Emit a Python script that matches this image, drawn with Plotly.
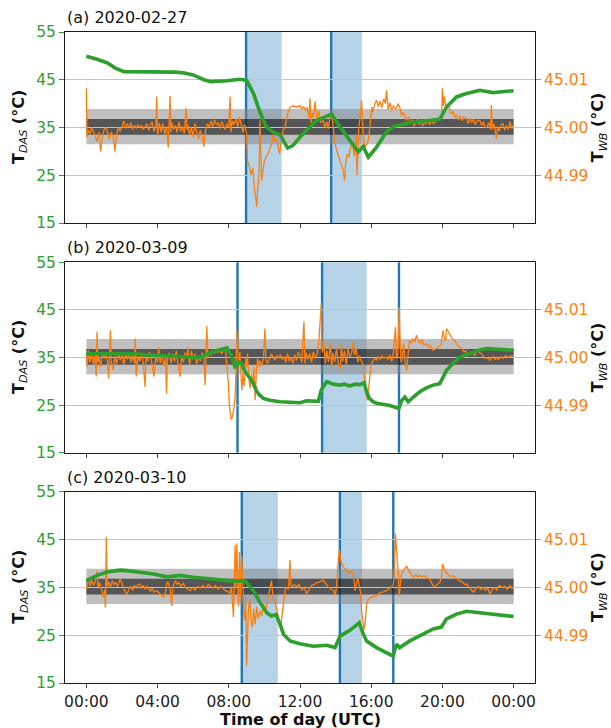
import plotly.graph_objects as go

GREEN = "#2ca02c"
ORANGE = "#ff7f0e"
BLUE = "#1f77b4"
FONT = "DejaVu Sans"

panel_titles = ["(a) 2020-02-27", "(b) 2020-03-09", "(c) 2020-03-10"]
hour_ticks = [0, 4, 8, 12, 16, 20, 24]
hour_labels = ["00:00", "04:00", "08:00", "12:00", "16:00", "20:00", "00:00"]
das_ticks = [15, 25, 35, 45, 55]
wb_ticks = [44.99, 45.00, 45.01]

# Reference thermometer uncertainty bands (T_WB, degC)
wb_band_outer = (44.9965, 45.0039)
wb_band_inner = (44.9985, 45.0018)

# DAS temperature (hour of day, degC)
das_a = [(0.0, 49.9), (0.6, 49.3), (1.2, 48.5), (1.6, 47.5), (2.1, 46.7), (3.0, 46.7), (4.0, 46.6),
         (5.0, 46.6), (5.5, 46.4), (6.0, 46.0), (6.6, 45.0), (7.0, 44.6), (7.9, 44.8), (8.6, 45.1),
         (9.0, 44.9), (9.4, 42.0), (9.75, 38.2), (10.1, 35.2), (10.5, 34.0), (10.9, 33.4), (11.3, 30.7),
         (11.6, 31.2), (12.0, 33.0), (12.4, 34.5), (12.94, 36.5), (13.78, 37.8), (14.25, 35.1),
         (14.8, 32.3), (15.27, 29.9), (15.55, 31.0), (15.84, 28.8), (16.3, 30.9), (16.86, 34.1),
         (17.33, 35.3), (18.17, 36.0), (19.1, 36.4), (19.85, 36.7), (20.23, 39.3), (20.79, 41.4),
         (21.35, 42.1), (22.1, 42.8), (22.84, 42.3), (24.0, 42.7)]

das_b = [(0.0, 35.8), (1.0, 35.8), (2.0, 35.7), (2.65, 35.8), (3.6, 35.5), (4.5, 35.3), (5.27, 35.2),
         (5.6, 35.0), (6.4, 35.0), (7.1, 36.2), (7.9, 37.0), (8.17, 35.1), (8.35, 33.0), (8.45, 33.2),
         (8.54, 34.1), (8.7, 33.8), (8.92, 32.0), (9.2, 30.6), (9.38, 29.5), (9.55, 28.0), (9.7, 27.2),
         (9.94, 26.4), (10.3, 26.0), (10.88, 25.7), (11.5, 25.5), (12.0, 25.5), (12.37, 25.9),
         (12.75, 25.9), (13.03, 25.8), (13.2, 28.2), (13.5, 29.9), (13.87, 29.4), (14.25, 29.2),
         (14.5, 29.4), (14.8, 29.0), (15.1, 29.4), (15.37, 29.3), (15.6, 29.7), (15.74, 27.8),
         (15.9, 26.4), (16.1, 25.7), (16.3, 25.4), (16.86, 25.0), (17.05, 24.9), (17.55, 24.3),
         (17.72, 26.0), (17.89, 26.7), (18.08, 25.7), (18.4, 26.8), (18.73, 27.8), (19.1, 28.6),
         (19.48, 29.2), (19.85, 29.5), (20.05, 31.0), (20.23, 32.3), (20.6, 33.8), (20.98, 35.1),
         (21.5, 35.8), (22.0, 36.5), (22.47, 36.9), (23.2, 36.7), (24.0, 36.5)]

das_c = [(0.0, 36.4), (0.6, 37.5), (1.16, 38.2), (1.9, 38.6), (2.28, 38.5), (3.0, 38.2), (3.78, 37.8),
         (4.52, 37.2), (5.27, 37.5), (6.0, 37.1), (6.77, 36.8), (7.51, 36.5), (8.26, 36.3), (8.9, 36.4),
         (9.38, 34.3), (9.76, 31.8), (10.13, 29.7), (10.4, 29.0), (10.65, 29.3), (10.88, 27.3),
         (11.07, 25.2), (11.44, 23.8), (12.0, 23.2), (12.75, 22.7), (13.5, 22.9), (13.97, 22.4),
         (14.25, 24.8), (14.8, 26.0), (15.33, 27.6), (15.55, 25.3), (15.74, 23.8), (16.3, 22.4),
         (16.86, 21.3), (17.23, 20.6), (17.42, 23.1), (17.6, 22.4), (18.17, 23.8), (18.73, 24.8),
         (19.48, 26.3), (19.94, 26.7), (20.23, 28.4), (20.79, 29.4), (21.35, 30.0), (22.1, 29.7),
         (22.84, 29.4), (24.0, 28.9)]

# Water-bath reference temperature (hour of day, degC)
wb_a = [(0.00, 45.0082), (0.03, 44.9980), (0.10, 44.9995), (0.20, 44.9986), (0.30, 45.0000), (0.40, 44.9992),
        (0.50, 44.9982), (0.60, 44.9970), (0.70, 44.9990), (0.80, 44.9950), (0.90, 44.9980), (1.00, 44.9996),
        (1.10, 45.0000), (1.20, 44.9988), (1.30, 44.9976), (1.40, 44.9990), (1.50, 44.9982), (1.60, 44.9950),
        (1.70, 44.9985), (1.80, 45.0000), (1.90, 44.9992), (2.00, 45.0002), (2.10, 45.0014), (2.20, 44.9998),
        (2.30, 45.0008), (2.40, 45.0000), (2.50, 45.0010), (2.60, 44.9996), (2.70, 45.0004), (2.80, 44.9998),
        (2.90, 45.0006), (3.00, 45.0000), (3.10, 45.0004), (3.20, 44.9996), (3.30, 45.0002), (3.40, 45.0008),
        (3.50, 44.9994), (3.60, 45.0006), (3.70, 45.0012), (3.80, 44.9992), (3.90, 45.0000), (3.95, 45.0065),
        (4.00, 44.9982), (4.10, 45.0010), (4.20, 44.9990), (4.30, 45.0008), (4.40, 44.9986), (4.50, 45.0002),
        (4.60, 44.9958), (4.70, 45.0066), (4.75, 44.9990), (4.80, 45.0010), (4.90, 44.9996), (5.00, 45.0004),
        (5.10, 44.9990), (5.20, 45.0012), (5.30, 44.9992), (5.40, 45.0002), (5.50, 44.9988), (5.60, 45.0040),
        (5.65, 44.9995), (5.70, 45.0006), (5.80, 44.9984), (5.90, 45.0000), (6.00, 44.9980), (6.10, 45.0008),
        (6.20, 44.9990), (6.30, 44.9976), (6.40, 44.9994), (6.50, 44.9982), (6.60, 44.9960), (6.70, 44.9996),
        (6.80, 45.0008), (6.90, 45.0000), (7.00, 45.0014), (7.10, 45.0002), (7.20, 45.0016), (7.30, 45.0006),
        (7.40, 45.0010), (7.50, 44.9998), (7.60, 45.0012), (7.70, 45.0004), (7.80, 44.9996), (7.90, 45.0008),
        (8.00, 45.0000), (8.07, 45.0065), (8.12, 44.9990), (8.20, 45.0014), (8.30, 45.0006), (8.40, 45.0018),
        (8.50, 45.0002), (8.60, 45.0022), (8.70, 45.0004), (8.80, 44.9990), (8.90, 45.0006), (9.00, 44.9988),
        (9.05, 44.9930), (9.15, 44.9920), (9.25, 44.9900), (9.35, 44.9915), (9.45, 44.9870), (9.52, 44.9845),
        (9.57, 44.9834), (9.62, 44.9870), (9.70, 44.9900), (9.75, 45.0015), (9.80, 44.9920), (9.85, 44.9889),
        (9.92, 44.9910), (10.00, 44.9930), (10.10, 44.9939), (10.20, 44.9945), (10.30, 44.9955), (10.40, 44.9965),
        (10.50, 44.9985), (10.60, 44.9970), (10.70, 44.9974), (10.80, 44.9948), (10.85, 44.9944), (10.95, 44.9970),
        (11.05, 44.9995), (11.15, 45.0000), (11.25, 45.0018), (11.35, 45.0035), (11.45, 45.0042), (11.60, 45.0045),
        (11.80, 45.0043), (12.00, 45.0046), (12.10, 45.0038), (12.20, 45.0044), (12.30, 45.0036), (12.40, 45.0042),
        (12.50, 45.0020), (12.56, 45.0061), (12.62, 45.0010), (12.70, 45.0030), (12.75, 45.0022), (12.85, 45.0055),
        (12.95, 45.0012), (13.05, 45.0035), (13.15, 45.0010), (13.30, 45.0015), (13.40, 45.0000), (13.50, 45.0012),
        (13.60, 44.9998), (13.70, 45.0025), (13.78, 45.0029), (13.85, 44.9998), (13.95, 44.9970), (14.06, 44.9952),
        (14.15, 44.9940), (14.25, 44.9930), (14.35, 44.9920), (14.45, 44.9905), (14.50, 44.9889), (14.55, 44.9920),
        (14.65, 44.9945), (14.75, 44.9938), (14.85, 44.9960), (14.95, 44.9966), (15.05, 44.9940), (15.15, 44.9985),
        (15.20, 44.9900), (15.30, 45.0000), (15.40, 45.0030), (15.46, 45.0057), (15.55, 44.9980), (15.65, 44.9959),
        (15.75, 44.9965), (15.84, 44.9973), (15.95, 45.0010), (16.03, 45.0043), (16.10, 45.0032), (16.20, 45.0050),
        (16.30, 45.0057), (16.40, 45.0044), (16.50, 45.0055), (16.60, 45.0042), (16.70, 45.0060), (16.80, 45.0050),
        (16.86, 45.0078), (16.95, 45.0038), (17.05, 45.0052), (17.15, 45.0036), (17.25, 45.0045), (17.40, 45.0038),
        (17.50, 45.0050), (17.60, 45.0043), (17.70, 45.0025), (17.80, 45.0032), (17.98, 45.0015), (18.10, 45.0022),
        (18.20, 45.0008), (18.30, 45.0016), (18.40, 45.0004), (18.50, 45.0008), (18.60, 45.0018), (18.70, 45.0006),
        (18.80, 45.0012), (18.90, 45.0004), (19.00, 45.0010), (19.10, 45.0008), (19.20, 45.0014), (19.30, 45.0006),
        (19.40, 45.0016), (19.50, 45.0008), (19.66, 45.0015), (19.80, 45.0019), (19.95, 45.0020), (20.00, 45.0082),
        (20.05, 45.0045), (20.10, 45.0065), (20.20, 45.0040), (20.30, 45.0050), (20.42, 45.0036), (20.50, 45.0028),
        (20.60, 45.0034), (20.70, 45.0022), (20.80, 45.0026), (20.90, 45.0016), (21.00, 45.0024), (21.10, 45.0014),
        (21.20, 45.0022), (21.35, 45.0019), (21.45, 45.0008), (21.55, 45.0020), (21.65, 45.0010), (21.75, 45.0018),
        (21.85, 45.0006), (21.95, 45.0014), (22.10, 45.0015), (22.20, 45.0004), (22.30, 45.0012), (22.40, 45.0000),
        (22.50, 45.0001), (22.60, 45.0010), (22.70, 44.9996), (22.75, 45.0047), (22.80, 44.9996), (22.90, 45.0008),
        (23.03, 44.9977), (23.10, 45.0002), (23.20, 44.9992), (23.30, 45.0006), (23.40, 45.0008), (23.50, 44.9994),
        (23.60, 45.0004), (23.70, 44.9996), (23.80, 45.0012), (23.90, 44.9998), (24.00, 45.0006)]

wb_b = [(0.00, 45.0005), (0.05, 44.9980), (0.10, 45.0015), (0.20, 44.9990), (0.30, 45.0008), (0.40, 44.9985),
        (0.50, 45.0010), (0.55, 44.9960), (0.60, 45.0054), (0.65, 44.9990), (0.70, 45.0002), (0.80, 44.9980),
        (0.90, 45.0012), (1.00, 44.9998), (1.10, 45.0006), (1.20, 44.9988), (1.25, 44.9956), (1.30, 45.0000),
        (1.35, 45.0057), (1.40, 44.9990), (1.50, 44.9973), (1.60, 45.0004), (1.70, 44.9986), (1.80, 45.0010),
        (1.90, 44.9994), (2.00, 45.0006), (2.10, 44.9984), (2.20, 45.0008), (2.30, 44.9996), (2.40, 45.0012),
        (2.50, 44.9990), (2.60, 45.0004), (2.70, 44.9988), (2.75, 45.0040), (2.80, 44.9960), (2.90, 45.0002),
        (3.00, 44.9992), (3.10, 45.0010), (3.20, 44.9986), (3.30, 44.9938), (3.35, 45.0000), (3.45, 44.9992),
        (3.55, 45.0012), (3.65, 44.9994), (3.80, 44.9960), (3.90, 45.0004), (4.00, 44.9990), (4.05, 45.0022),
        (4.15, 44.9988), (4.25, 45.0006), (4.35, 44.9982), (4.45, 45.0000), (4.50, 44.9924), (4.55, 44.9994),
        (4.65, 45.0010), (4.75, 44.9988), (4.85, 45.0008), (4.95, 44.9992), (5.05, 45.0014), (5.15, 44.9986),
        (5.27, 44.9960), (5.35, 45.0004), (5.45, 44.9990), (5.55, 45.0010), (5.65, 44.9998), (5.70, 45.0022),
        (5.80, 44.9984), (5.90, 45.0014), (6.00, 44.9996), (6.10, 45.0008), (6.20, 44.9986), (6.30, 45.0004),
        (6.40, 44.9992), (6.50, 45.0010), (6.60, 44.9996), (6.67, 44.9942), (6.72, 45.0006), (6.77, 45.0066),
        (6.82, 45.0000), (6.90, 45.0012), (7.00, 45.0004), (7.10, 45.0016), (7.20, 45.0008), (7.30, 45.0018),
        (7.40, 45.0010), (7.50, 45.0016), (7.60, 45.0008), (7.70, 45.0019), (7.80, 45.0022), (7.90, 44.9980),
        (7.98, 44.9945), (8.03, 44.9900), (8.07, 44.9889), (8.13, 44.9870), (8.20, 44.9875), (8.28, 44.9890),
        (8.35, 44.9917), (8.42, 44.9985), (8.45, 45.0057), (8.50, 44.9995), (8.55, 44.9980), (8.62, 45.0012),
        (8.68, 44.9950), (8.73, 44.9931), (8.80, 44.9968), (8.85, 44.9940), (8.90, 44.9955), (8.95, 44.9998),
        (9.00, 44.9980), (9.05, 45.0008), (9.12, 44.9960), (9.20, 44.9935), (9.28, 44.9965), (9.35, 44.9940),
        (9.42, 44.9980), (9.48, 44.9910), (9.55, 44.9970), (9.62, 44.9998), (9.70, 44.9980), (9.75, 44.9994),
        (9.85, 44.9982), (9.95, 45.0000), (10.03, 45.0061), (10.08, 44.9994), (10.18, 44.9988), (10.30, 45.0000),
        (10.40, 45.0008), (10.50, 45.0000), (10.60, 44.9994), (10.70, 45.0004), (10.80, 44.9998), (10.90, 45.0006),
        (11.00, 44.9996), (11.10, 45.0002), (11.20, 44.9990), (11.30, 45.0008), (11.40, 44.9992), (11.50, 45.0000),
        (11.60, 44.9988), (11.70, 45.0006), (11.80, 44.9994), (11.90, 45.0012), (12.00, 45.0004), (12.10, 44.9990),
        (12.22, 45.0075), (12.28, 44.9988), (12.35, 45.0010), (12.45, 44.9996), (12.55, 45.0008), (12.65, 44.9990),
        (12.75, 45.0012), (12.85, 44.9998), (12.95, 45.0006), (13.05, 45.0030), (13.12, 45.0085), (13.20, 45.0115),
        (13.25, 45.0010), (13.35, 45.0030), (13.42, 44.9987), (13.50, 45.0015), (13.60, 44.9990), (13.70, 45.0030),
        (13.78, 44.9980), (13.85, 45.0010), (13.95, 44.9990), (14.05, 45.0020), (14.15, 44.9985), (14.27, 44.9977),
        (14.32, 45.0030), (14.40, 44.9992), (14.50, 45.0015), (14.60, 44.9985), (14.70, 45.0020), (14.80, 45.0000),
        (14.90, 45.0010), (14.99, 45.0033), (15.05, 45.0005), (15.15, 45.0018), (15.25, 44.9990), (15.35, 45.0004),
        (15.45, 44.9992), (15.55, 44.9985), (15.65, 44.9945), (15.72, 44.9920), (15.80, 44.9910), (15.85, 44.9935),
        (15.92, 44.9960), (16.00, 44.9985), (16.10, 44.9994), (16.20, 45.0000), (16.30, 44.9994), (16.40, 45.0002),
        (16.50, 44.9996), (16.60, 45.0004), (16.70, 44.9998), (16.86, 45.0001), (16.95, 44.9996), (17.05, 45.0006),
        (17.15, 44.9992), (17.25, 45.0010), (17.36, 45.0064), (17.42, 44.9998), (17.50, 45.0004), (17.57, 45.0106),
        (17.62, 45.0035), (17.68, 44.9990), (17.75, 45.0000), (17.82, 45.0030), (17.90, 44.9994), (18.00, 44.9973),
        (18.08, 45.0010), (18.15, 45.0036), (18.25, 45.0030), (18.35, 45.0040), (18.45, 45.0032), (18.54, 45.0047),
        (18.65, 45.0036), (18.75, 45.0030), (18.85, 45.0038), (18.95, 45.0026), (19.10, 45.0029), (19.20, 45.0022),
        (19.30, 45.0026), (19.40, 45.0018), (19.48, 45.0015), (19.60, 45.0018), (19.75, 45.0022), (19.85, 45.0024),
        (19.94, 45.0030), (20.03, 45.0057), (20.10, 45.0044), (20.18, 45.0034), (20.23, 45.0061), (20.35, 45.0052),
        (20.45, 45.0046), (20.55, 45.0040), (20.70, 45.0036), (20.80, 45.0028), (20.90, 45.0024), (21.00, 45.0020),
        (21.10, 45.0019), (21.20, 45.0012), (21.30, 45.0014), (21.40, 45.0008), (21.50, 45.0010), (21.60, 45.0006),
        (21.70, 45.0012), (21.80, 45.0004), (21.90, 45.0010), (22.00, 45.0014), (22.10, 45.0010), (22.20, 45.0008),
        (22.30, 45.0002), (22.40, 44.9998), (22.50, 45.0000), (22.65, 44.9994), (22.75, 44.9998), (22.85, 45.0002),
        (22.95, 44.9996), (23.05, 45.0000), (23.15, 44.9996), (23.30, 45.0002), (23.40, 44.9998), (23.55, 45.0004),
        (23.70, 45.0000), (23.85, 45.0004), (24.00, 45.0003)]

wb_c = [(0.00, 44.9996), (0.07, 45.0010), (0.13, 45.0021), (0.20, 45.0002), (0.30, 45.0015), (0.40, 45.0004),
        (0.50, 45.0012), (0.60, 45.0035), (0.65, 45.0000), (0.75, 45.0010), (0.85, 44.9998), (0.97, 44.9979),
        (1.02, 44.9995), (1.07, 44.9958), (1.12, 45.0105), (1.17, 45.0000), (1.25, 45.0012), (1.35, 45.0000),
        (1.45, 45.0014), (1.55, 45.0006), (1.65, 45.0010), (1.75, 45.0002), (1.90, 45.0018), (2.00, 45.0006),
        (2.10, 44.9998), (2.20, 44.9990), (2.28, 44.9986), (2.40, 44.9996), (2.50, 45.0002), (2.60, 44.9994),
        (2.70, 45.0004), (2.80, 44.9998), (2.90, 45.0006), (3.00, 45.0007), (3.10, 44.9998), (3.20, 45.0004),
        (3.30, 44.9996), (3.40, 45.0002), (3.50, 44.9998), (3.60, 44.9992), (3.70, 44.9998), (3.80, 44.9990),
        (3.96, 44.9993), (4.10, 44.9988), (4.20, 44.9984), (4.34, 44.9979), (4.45, 44.9990), (4.52, 45.0008),
        (4.60, 45.0012), (4.70, 44.9996), (4.80, 44.9961), (4.85, 45.0000), (5.00, 45.0014), (5.10, 45.0006),
        (5.20, 45.0010), (5.30, 45.0002), (5.45, 45.0008), (5.55, 45.0000), (5.70, 44.9996), (5.83, 44.9993),
        (5.95, 45.0000), (6.10, 44.9994), (6.25, 45.0002), (6.40, 44.9998), (6.55, 45.0004), (6.70, 44.9998),
        (6.85, 45.0006), (6.95, 45.0002), (7.10, 44.9998), (7.25, 45.0004), (7.40, 44.9996), (7.55, 45.0002),
        (7.70, 44.9996), (7.85, 44.9992), (8.00, 44.9990), (8.07, 44.9988), (8.15, 45.0002), (8.22, 44.9945),
        (8.26, 44.9938), (8.32, 45.0010), (8.35, 45.0088), (8.40, 45.0000), (8.45, 45.0092), (8.50, 45.0015),
        (8.55, 44.9960), (8.60, 45.0074), (8.67, 44.9980), (8.73, 45.0065), (8.78, 45.0010), (8.84, 44.9950),
        (8.90, 44.9930), (8.95, 44.9980), (9.00, 44.9836), (9.05, 44.9900), (9.10, 44.9952), (9.18, 44.9975),
        (9.25, 44.9930), (9.32, 44.9917), (9.40, 44.9955), (9.48, 44.9923), (9.57, 44.9960), (9.65, 44.9935),
        (9.76, 44.9951), (9.85, 44.9940), (9.95, 44.9965), (10.05, 44.9950), (10.13, 44.9965), (10.22, 44.9980),
        (10.32, 44.9994), (10.40, 45.0014), (10.48, 44.9980), (10.58, 44.9970), (10.68, 44.9955), (10.78, 44.9940),
        (10.88, 44.9916), (10.95, 44.9930), (11.07, 44.9965), (11.16, 44.9994), (11.25, 45.0000), (11.35, 44.9996),
        (11.44, 45.0057), (11.48, 45.0006), (11.55, 45.0000), (11.65, 45.0006), (11.80, 45.0002), (11.95, 45.0006),
        (12.10, 44.9994), (12.25, 45.0000), (12.37, 44.9986), (12.50, 44.9996), (12.65, 45.0004), (12.80, 45.0006),
        (12.95, 45.0010), (13.10, 45.0011), (13.30, 45.0015), (13.45, 45.0008), (13.60, 45.0000), (13.75, 44.9996),
        (13.90, 44.9993), (13.97, 44.9984), (14.05, 45.0000), (14.12, 45.0040), (14.20, 45.0080), (14.28, 45.0060),
        (14.35, 45.0049), (14.45, 45.0042), (14.55, 45.0038), (14.65, 45.0034), (14.75, 45.0030), (14.85, 45.0034),
        (14.90, 45.0032), (15.00, 45.0024), (15.10, 44.9993), (15.18, 45.0010), (15.25, 45.0020), (15.32, 45.0005),
        (15.40, 44.9990), (15.46, 44.9951), (15.53, 44.9933), (15.60, 44.9912), (15.66, 44.9925), (15.74, 44.9965),
        (15.84, 44.9975), (15.95, 44.9978), (16.10, 44.9980), (16.30, 44.9982), (16.49, 44.9989), (16.65, 44.9990),
        (16.86, 44.9993), (17.05, 44.9998), (17.14, 45.0000), (17.23, 45.0004), (17.30, 45.0030), (17.36, 45.0112),
        (17.42, 45.0080), (17.46, 45.0063), (17.52, 45.0030), (17.57, 44.9982), (17.62, 45.0000), (17.70, 45.0028),
        (17.80, 45.0034), (17.90, 45.0040), (17.98, 45.0044), (18.10, 45.0036), (18.20, 45.0030), (18.36, 45.0021),
        (18.50, 45.0026), (18.60, 45.0022), (18.73, 45.0025), (18.85, 45.0022), (19.00, 45.0024), (19.10, 45.0019),
        (19.29, 45.0018), (19.40, 45.0008), (19.57, 45.0000), (19.70, 45.0006), (19.85, 45.0010), (19.95, 45.0020),
        (20.00, 45.0049), (20.08, 45.0040), (20.18, 45.0032), (20.30, 45.0028), (20.45, 45.0022), (20.60, 45.0024),
        (20.79, 45.0018), (20.95, 45.0014), (21.10, 45.0012), (21.25, 45.0006), (21.35, 45.0007), (21.50, 45.0000),
        (21.60, 44.9996), (21.73, 44.9990), (21.85, 44.9996), (22.00, 45.0002), (22.15, 44.9996), (22.28, 45.0000),
        (22.40, 44.9994), (22.55, 44.9998), (22.66, 44.9986), (22.80, 44.9996), (22.95, 45.0000), (23.05, 44.9994),
        (23.20, 45.0004), (23.35, 45.0000), (23.50, 45.0002), (23.65, 44.9996), (23.80, 45.0004), (23.90, 44.9998),
        (24.00, 45.0001)]

# Event markers (hour of day) and shaded intervals (start, end)
events_a = [8.97, 13.75]
spans_a = [(8.97, 10.97), (13.75, 15.47)]
events_b = [8.49, 13.24, 17.56]
spans_b = [(13.24, 15.75)]
events_c = [8.73, 14.24, 17.24]
spans_c = [(8.73, 10.75), (14.24, 15.48)]

panels = [
    dict(das=das_a, wb=wb_a, events=events_a, spans=spans_a),
    dict(das=das_b, wb=wb_b, events=events_b, spans=spans_b),
    dict(das=das_c, wb=wb_c, events=events_c, spans=spans_c),
]

domains = [(0.7066, 1.0), (0.3538, 0.6462), (0.0, 0.2939)]

TICK_FONT = dict(family=FONT, size=15.5)
LABEL_FONT = dict(family=FONT, size=16, color="#111")

fig = go.Figure()
layout = {}
shapes = []
annotations = []

for i, p in enumerate(panels):
    n = i + 1
    xa = "x" if n == 1 else f"x{n}"
    yb = "y" if n == 1 else f"y{n}"     # T_WB axis (right)
    yo = f"y{n + 3}"                     # T_DAS axis (left), drawn on top
    xkey = "xaxis" if n == 1 else f"xaxis{n}"
    ybkey = "yaxis" if n == 1 else f"yaxis{n}"
    yokey = f"yaxis{n + 3}"

    wb_h = [h for h, _ in p["wb"]]
    wb_t = [t for _, t in p["wb"]]
    das_h = [h for h, _ in p["das"]]
    das_t = [t for _, t in p["das"]]

    fig.add_trace(go.Scatter(x=wb_h, y=wb_t, xaxis=xa, yaxis=yb, mode="lines",
                             line=dict(color=ORANGE, width=1.3), hoverinfo="skip",
                             showlegend=False))
    fig.add_trace(go.Scatter(x=das_h, y=das_t, xaxis=xa, yaxis=yo, mode="lines",
                             line=dict(color=GREEN, width=3.6), hoverinfo="skip",
                             showlegend=False))

    layout[xkey] = dict(domain=[0, 1], anchor=yb, range=[-1.2, 25.2],
                        tickmode="array", tickvals=hour_ticks, ticktext=hour_labels,
                        showticklabels=(n == 3), ticks="outside", ticklen=4,
                        tickcolor="#444", tickfont=dict(TICK_FONT, color="#222"),
                        showline=True, mirror=True, linecolor="#1a1a1a", linewidth=1,
                        showgrid=False, zeroline=False)
    layout[ybkey] = dict(domain=list(domains[i]), anchor=xa, side="right",
                         range=[44.98, 45.02], tickmode="array", tickvals=wb_ticks,
                         tickformat=".2f", ticks="outside", ticklen=5, tickcolor=ORANGE,
                         tickfont=dict(TICK_FONT, color=ORANGE),
                         showgrid=True, gridcolor="#c4c4c4", gridwidth=1,
                         showline=True, mirror=True, linecolor="#1a1a1a", linewidth=1,
                         zeroline=False)
    layout[yokey] = dict(overlaying=yb, anchor=xa, side="left", range=[15, 55],
                         tickmode="array", tickvals=das_ticks, ticks="outside", ticklen=5,
                         tickcolor=GREEN, tickfont=dict(TICK_FONT, color=GREEN),
                         showgrid=False, showline=True, linecolor="#1a1a1a", linewidth=1,
                         zeroline=False)

    # uncertainty bands of the reference thermometer
    shapes.append(dict(type="rect", xref=xa, yref=yb, x0=0, x1=24,
                       y0=wb_band_outer[0], y1=wb_band_outer[1],
                       fillcolor="rgba(128,128,128,0.5)", line=dict(width=0), layer="below"))
    shapes.append(dict(type="rect", xref=xa, yref=yb, x0=0, x1=24,
                       y0=wb_band_inner[0], y1=wb_band_inner[1],
                       fillcolor="rgba(0,0,0,0.55)", line=dict(width=0), layer="below"))
    for s0, s1 in p["spans"]:
        shapes.append(dict(type="rect", xref=xa, yref=f"{yb} domain", x0=s0, x1=s1,
                           y0=0, y1=1, fillcolor="rgba(31,119,180,0.33)",
                           line=dict(width=0), layer="below"))
    for ev in p["events"]:
        shapes.append(dict(type="line", xref=xa, yref=f"{yb} domain", x0=ev, x1=ev,
                           y0=0, y1=1, line=dict(color=BLUE, width=2.4), layer="below"))

    top = domains[i][1]
    annotations.append(dict(text=panel_titles[i], xref="paper", yref="paper",
                            x=0, y=top + 0.0045, xanchor="left", yanchor="bottom",
                            showarrow=False, font=LABEL_FONT))
    mid = (domains[i][0] + domains[i][1]) / 2
    annotations.append(dict(text="<b>T</b><sub><i>DAS</i></sub><b> (°C)</b>",
                            xref="paper", yref="paper",
                            x=-0.0968, y=mid, xanchor="center", yanchor="middle",
                            textangle=-90, showarrow=False, font=LABEL_FONT))
    annotations.append(dict(text="<b>T</b><sub><i>WB</i></sub><b> (°C)</b>",
                            xref="paper", yref="paper",
                            x=1.1355, y=mid, xanchor="center", yanchor="middle",
                            textangle=-90, showarrow=False, font=LABEL_FONT))

annotations.append(dict(text="<b>Time of day (UTC)</b>", xref="paper", yref="paper",
                        x=0.5, y=-0.0553, xanchor="center", yanchor="middle",
                        showarrow=False, font=LABEL_FONT))

fig.update_layout(
    width=611, height=728,
    margin=dict(l=65, r=76, t=32, b=45),
    paper_bgcolor="white", plot_bgcolor="white",
    font=dict(family=FONT, size=15.5, color="#222"),
    showlegend=False,
    shapes=shapes, annotations=annotations,
    **layout,
)

fig.write_html("out.html")
